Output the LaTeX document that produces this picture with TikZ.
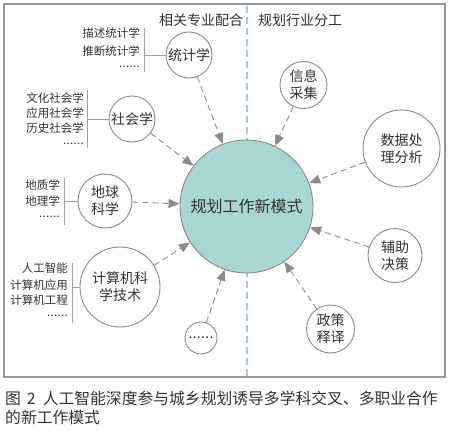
\documentclass[tikz,border=0pt]{standalone}
\usepackage{fontspec}
\setmainfont{Noto Sans CJK SC}
\usetikzlibrary{arrows.meta}
\definecolor{txt}{HTML}{333333}
\definecolor{circ}{HTML}{8A8A8A}
\definecolor{teal}{HTML}{A8D7D3}
\definecolor{divc}{HTML}{A6CDD4}
\definecolor{arrc}{HTML}{8C8C8C}
\newcommand\sixdots{.\kern0.3pt.\kern0.3pt.\kern0.3pt.\kern0.3pt.\kern0.3pt.}
\tikzset{
  sc/.style={circle, draw=circ, line width=0.9pt, fill=white, inner sep=0pt, align=center, text=txt, font=\fontsize{14}{17}\selectfont},
  lst/.style={anchor=east, inner sep=0pt, text=txt, font=\fontsize{11.5}{14}\selectfont},
  ln/.style={draw=circ!80, line width=0.9pt},
  arr/.style={draw=arrc, line width=0.9pt, dash pattern=on 6pt off 4pt, -{Triangle[length=11pt,width=9pt,fill=arrc]}},
  hdr/.style={inner sep=0pt, text=txt, font=\fontsize{14}{17}\selectfont},
  captxt/.style={anchor=west, inner sep=0pt, text=txt, font=\fontsize{15.8}{19}\selectfont}
}
\begin{document}
\begin{tikzpicture}[x=1pt,y=-1pt]
\useasboundingbox (0,0) rectangle (450,431);
\fill[white] (0,0) rectangle (450,431);
% frame
\draw[circ!90, line width=1.1pt] (4,4) rectangle (445,377);
% divider
\draw[divc, line width=1.3pt, dash pattern=on 7pt off 4pt] (247,6) -- (247,376);
% headers
\node[hdr] (h1) at (201,20) {相关专业配合};
\node[hdr] (h2) at (300,20) {规划行业分工};
% center
\node[circle, draw=circ, line width=0.9pt, fill=teal, minimum size=133pt, inner sep=0pt, text=txt, font=\fontsize{16}{19}\selectfont] (c) at (246.5,206.5) {规划工作新模式};
% left circles
\node[sc, minimum size=46pt] (tj) at (189,55) {统计学};
\node[sc, minimum size=46pt] (sh) at (132,119) {社会学};
\node[sc, minimum size=54pt] (dq) at (105,201) {地球\\科学};
\node[sc, minimum size=80pt] (js) at (120,287) {计算机科\\学技术};
\node[sc, minimum size=32pt] (dd) at (201,338) {\sixdots};
% right circles
\node[sc, minimum size=47pt] (xx) at (303.5,85) {信息\\采集};
\node[sc, minimum size=77pt] (sj) at (401.5,148.5) {数据处\\理分析};
\node[sc, minimum size=54pt] (fz) at (395,255.5) {辅助\\决策};
\node[sc, minimum size=48pt] (zc) at (330.5,329) {政策\\释译};
% lists
\node[lst] (t1) at (140,33) {描述统计学};
\node[lst] (t2) at (140,51) {推断统计学};
\node[lst] (t3) at (140,67) {\sixdots};
\draw[ln] (144,28) -- (144,72);
\coordinate (tjb) at (144,55);
\draw[ln] (tjb) -- (tj);

\node[lst] (s1) at (84,98) {文化社会学};
\node[lst] (s2) at (84,113) {应用社会学};
\node[lst] (s3) at (84,128) {历史社会学};
\node[lst] (s4) at (84,144) {\sixdots};
\draw[ln] (87,90) -- (87,148);
\coordinate (shb) at (87,119);
\draw[ln] (shb) -- (sh);

\node[lst] (d1) at (60,185) {地质学};
\node[lst] (d2) at (60,201) {地理学};
\node[lst] (d3) at (60,217) {\sixdots};
\draw[ln] (64,178) -- (64,225);
\coordinate (dqb) at (64,201);
\draw[ln] (dqb) -- (dq);

\node[lst] (j1) at (68,268) {人工智能};
\node[lst] (j2) at (68,285) {计算机应用};
\node[lst] (j3) at (68,300) {计算机工程};
\node[lst] (j4) at (68,316) {\sixdots};
\draw[ln] (72,263) -- (72,323);
\coordinate (jsb) at (72,287);
\draw[ln] (jsb) -- (js);
% arrows
\foreach \n in {tj,sh,dq,js,dd,xx,sj,fz,zc} \draw[arr] (\n) -- (c);
% caption
\node[captxt] (cap1) at (5,398) {图\hspace{6pt}2\hspace{7pt}人工智能深度参与城乡规划诱导多学科交叉、多职业合作};
\node[captxt] (cap2) at (5,417) {的新工作模式};
\end{tikzpicture}
\end{document}
